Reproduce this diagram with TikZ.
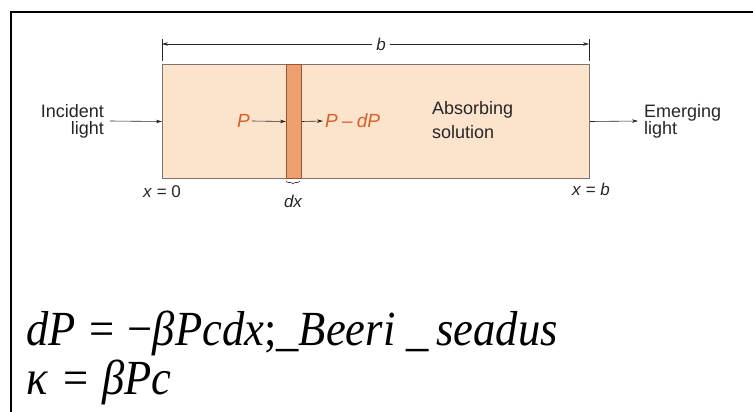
\documentclass[tikz,border=0pt]{standalone}
\usepackage{fontspec}
\setmainfont{Liberation Serif}
\setsansfont{Liberation Sans}
\usetikzlibrary{arrows.meta,decorations.pathreplacing}
\definecolor{peach}{RGB}{252,227,204}
\definecolor{stripc}{RGB}{238,160,110}
\definecolor{rectedge}{RGB}{130,115,105}
\definecolor{stripedge}{RGB}{150,85,55}
\definecolor{ptext}{RGB}{214,96,42}
\begin{document}
\begin{tikzpicture}[x=1pt,y=-1pt,
  lbl/.style={font=\sffamily\fontsize{18}{17}\selectfont, inner sep=0pt, text=black!85},
  plbl/.style={font=\sffamily\itshape\fontsize{19}{19}\selectfont, inner sep=0pt, text=ptext},
  arr/.style={-{Stealth[length=6pt,width=3.5pt]}, line width=0.6pt, draw=black!85},
  eq/.style={font=\fontsize{44.6}{44.6}\selectfont, inner sep=0pt, anchor=base west}]
\useasboundingbox (0,0) rectangle (753,412);
\draw[line width=1.5pt] (11,412) -- (11,12) -- (753,12);
% cell and strip
\node[draw=rectedge, fill=peach, line width=1pt, minimum width=427pt, minimum height=114pt, anchor=north west, inner sep=0pt] (cell) at (162,64) {};
\node[draw=stripedge, fill=stripc, line width=1pt, minimum width=15pt, minimum height=114pt, anchor=north west, inner sep=0pt] (strip) at (286,64) {};
% dimension b
\node[lbl, font=\sffamily\itshape\fontsize{17}{17}\selectfont] (b) at (381,44) {b};
\coordinate (dl) at (162,44);
\coordinate (dr) at (589,44);
\draw[line width=0.6pt, draw=black!85] (162,39) -- (162,61);
\draw[line width=0.6pt, draw=black!85] (589,39) -- (589,61);
\draw[arr] ([xshift=-4pt]b.west) -- (dl);
\draw[arr] ([xshift=4pt]b.east) -- (dr);
% incident light
\node[lbl, align=right, anchor=east] (inc) at (104,121) {Incident\\light};
\draw[arr] ([xshift=6pt]inc.east) -- (cell.west);
% emerging light
\node[lbl, align=left, anchor=west] (em) at (644,121) {Emerging\\light};
\draw[arr] (cell.east) -- ([xshift=-6pt]em.west);
% absorbing solution
\node[lbl, align=left, anchor=west, font=\sffamily\fontsize{18}{24}\selectfont] (abs) at (432,120) {Absorbing\\solution};
% P labels
\node[plbl, anchor=east] (p) at (250,121) {P};
\draw[arr] ([xshift=2pt]p.east) -- (strip.west);
\node[plbl, anchor=west] (pd) at (325,121) {P\hspace{0.22em}\textup{–}\hspace{0.22em}dP};
\draw[arr] (strip.east) -- ([xshift=-2pt]pd.west);
% positions
\node[lbl, font=\sffamily\fontsize{17}{17}\selectfont] (x0) at (162,192) {\textit{x} = 0};
\node[lbl, font=\sffamily\fontsize{17}{17}\selectfont] (xb) at (591,189) {\textit{x} = \textit{b}};
\draw[line width=0.6pt, draw=black!85, decorate, decoration={brace, amplitude=3pt}] (300,181) -- (286,181);
\node[lbl, font=\sffamily\itshape\fontsize{17}{17}\selectfont] (dx) at (293,201) {dx};
% equations
\node[eq] (eq1) at (26,345) {\scalebox{1}[1.1]{\textit{dP}\hspace{0.3em}=\hspace{0.3em}−\textit{βPcdx};\_\textit{Beeri} \_\,\textit{seadus}}};
\node[eq] (eq2) at (26,394) {\scalebox{1}[1.1]{\textit{κ}\hspace{0.35em}=\hspace{0.3em}\textit{βPc}}};
\end{tikzpicture}
\end{document}
